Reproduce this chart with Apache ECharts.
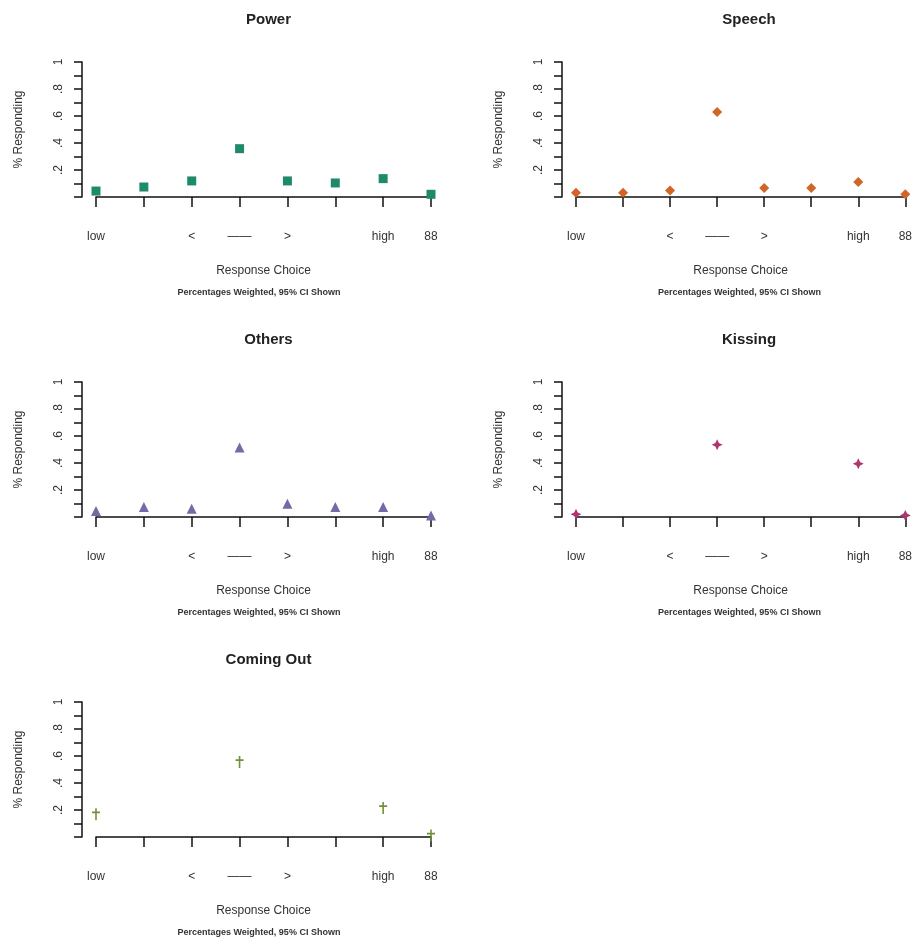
<!DOCTYPE html>
<html>
<head>
<meta charset="utf-8">
<script src="https://cdn.jsdelivr.net/npm/echarts@6/dist/echarts.min.js"></script>
<style>html,body{margin:0;padding:0;background:#fff}#c{width:915px;height:939px}</style>
</head>
<body>
<div id="c"></div>
<script>
var categories = ['low', '', '<', '\u2014\u2014', '>', '', 'high', '88'];
var power = [0.044, 0.074, 0.119, 0.358, 0.119, 0.104, 0.136, 0.02];
var speech = [0.032, 0.032, 0.049, 0.63, 0.067, 0.067, 0.111, 0.02];
var others = [0.044, 0.074, 0.062, 0.514, 0.099, 0.074, 0.074, 0.012];
var kissing = [0.02, null, null, 0.536, null, null, 0.395, 0.012];
var comingOut = [0.168, null, null, 0.556, null, null, 0.215, 0.012];
var panelTitles = ['Power', 'Speech', 'Others', 'Kissing', 'Coming Out'];
var yTickLabels = {2: '.2', 4: '.4', 6: '.6', 8: '.8', 10: '1'};
var xTitle = 'Response Choice';
var yTitle = '% Responding';
var noteText = 'Percentages Weighted, 95% CI Shown';

var panelData = [power, speech, others, kissing, comingOut];
var colors = ['#1f8a6b', '#cf6526', '#716ca6', '#b03470', '#6f913a'];
var symbols = [
  'rect',
  'diamond',
  'triangle',
  'path://M5,0 L6.6,3.4 L10,5 L6.6,6.6 L5,10 L3.4,6.6 L0,5 L3.4,3.4 Z',
  'path://M4.2,0 L5.8,0 L5.8,3 L9,3 L9,4.6 L5.8,4.6 L5.8,11 L4.2,11 L4.2,4.6 L1,4.6 L1,3 L4.2,3 Z'
];
var symbolSizes = [9, [10, 10], 10, 11, [8, 12]];

var colLeft = [96, 576], colWidth = [335, 336];
var rowTop = [62, 382, 702], plotH = 135;

var grids = [], xAxes = [], yAxes = [], series = [], titles = [], graphics = [];
for (var i = 0; i < 5; i++) {
  var col = i % 2, row = Math.floor(i / 2);
  var L = colLeft[col], W = colWidth[col], T = rowTop[row];
  grids.push({left: L, top: T, width: W, height: plotH, containLabel: false});
  xAxes.push({
    gridIndex: i, type: 'category', data: categories, boundaryGap: false, offset: 6,
    axisLine: {lineStyle: {color: '#111', width: 1.5}},
    axisTick: {alignWithLabel: true, length: 10, lineStyle: {color: '#111', width: 1.5}},
    axisLabel: {color: '#333', fontSize: 12, margin: 28, fontFamily: 'Liberation Sans', interval: 0},
    name: xTitle, nameLocation: 'middle', nameGap: 62,
    nameTextStyle: {color: '#333', fontSize: 12, fontFamily: 'Liberation Sans'},
    splitLine: {show: false}
  });
  yAxes.push({
    gridIndex: i, type: 'value', min: 0, max: 1, interval: 0.1, offset: 14,
    axisLine: {show: true, lineStyle: {color: '#111', width: 1.5}},
    axisTick: {show: true, length: 8, lineStyle: {color: '#111', width: 1.5}},
    axisLabel: {
      rotate: 90, margin: 17, color: '#333', fontSize: 12, fontFamily: 'Liberation Sans',
      formatter: function (v) { var n = Math.round(v * 10); return yTickLabels[n] || ''; }
    },
    splitLine: {show: false},
    name: yTitle, nameLocation: 'middle', nameGap: 57,
    nameTextStyle: {color: '#333', fontSize: 12, fontFamily: 'Liberation Sans'}
  });
  series.push({
    type: 'scatter', xAxisIndex: i, yAxisIndex: i,
    data: panelData[i].map(function (v) { return v === null ? '-' : v; }),
    symbol: symbols[i], symbolSize: symbolSizes[i],
    itemStyle: {color: colors[i], opacity: 1},
    z: 5
  });
  titles.push({
    text: panelTitles[i], left: L + W / 2, top: T - 55, textAlign: 'center',
    textStyle: {fontSize: 15, fontWeight: 'bold', color: '#222', fontFamily: 'Liberation Sans'}
  });
  graphics.push({
    type: 'text', left: L + W / 2 - 86, top: T + 226,
    style: {text: noteText, fontSize: 9, fontWeight: 'bold', fill: '#333', fontFamily: 'Liberation Sans'}
  });
}

var chart = echarts.init(document.getElementById('c'), null, {renderer: 'canvas'});
chart.setOption({
  backgroundColor: '#fff',
  animation: false,
  title: titles,
  grid: grids,
  xAxis: xAxes,
  yAxis: yAxes,
  series: series,
  graphic: graphics
});
</script>
</body>
</html>
